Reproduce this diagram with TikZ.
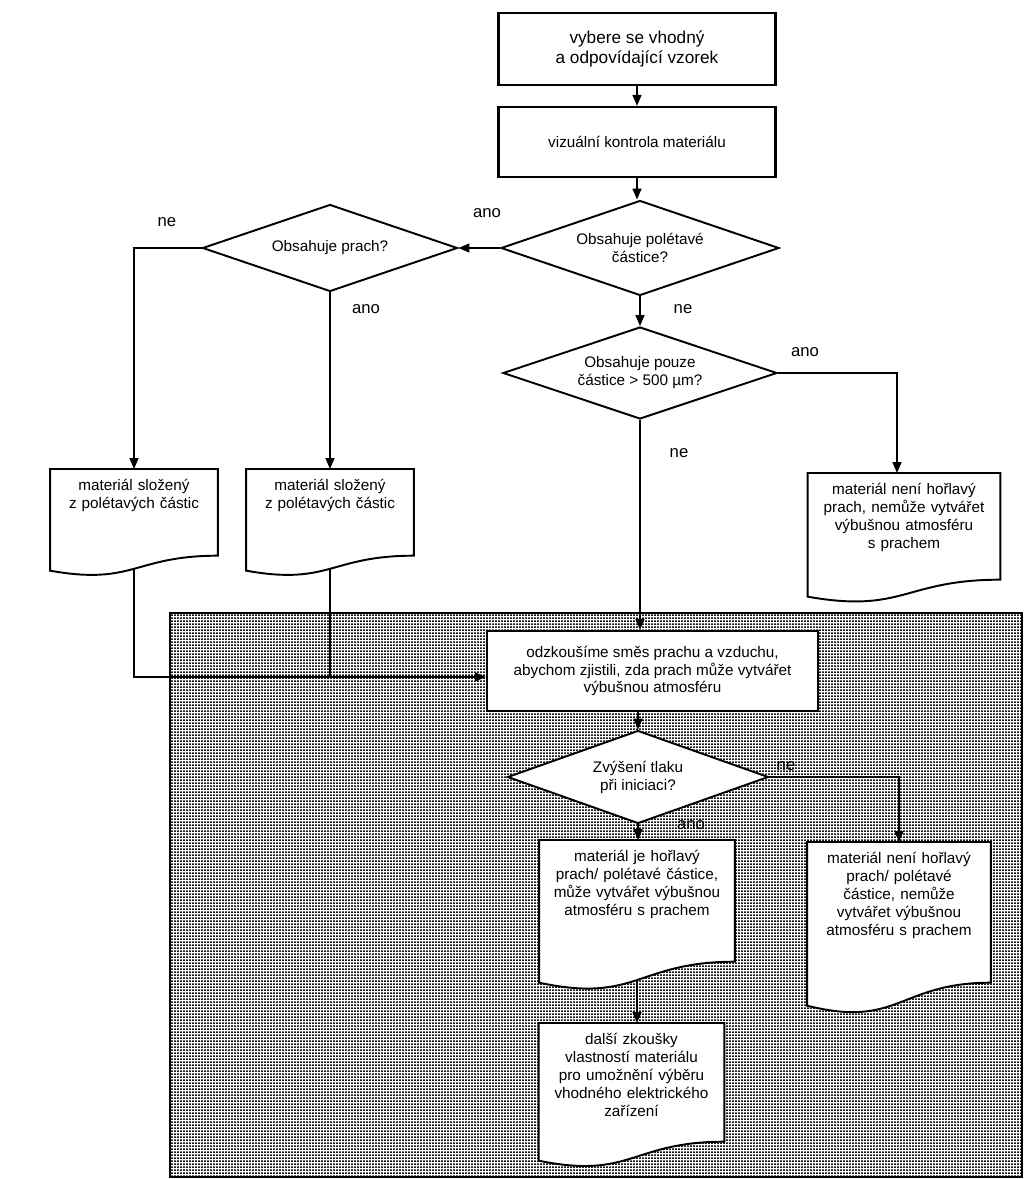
\documentclass[tikz,border=0pt]{standalone}
\usepackage{fontspec}
\setmainfont{Liberation Sans}
\usetikzlibrary{shapes.geometric,arrows.meta,calc,backgrounds,patterns.meta}

\tikzdeclarepattern{
    name=dust,
    type=uncolored,
    bounding box={(0pt,0pt) and (1.6pt,1.6pt)},
    tile size={(1.6pt,1.6pt)},
    code={\fill (0pt,0pt) rectangle (1.15pt,1.05pt);}
}

\begin{document}
\begin{tikzpicture}[
        x=0.02cm, y=0.02cm,
        font=\fontsize{8.7pt}{10.2pt}\selectfont,
        proc/.style={rectangle, draw, line width=1.3pt, fill=white, minimum width=5.54cm, align=center},
        dec/.style={diamond, draw, line width=1.1pt, fill=white, aspect=2.8, inner sep=0pt, align=center},
        doc/.style 2 args={rectangle, inner sep=0pt, anchor=north, align=center, text width=#1, text height=0.42cm, text depth=#2},
        docline/.style={draw, line width=1.1pt, fill=white},
        conn/.style={line width=0.9pt},
        arr/.style={conn, -{Triangle[length=2.2mm, width=1.8mm]}},
        tag/.style={font=\fontsize{9.5pt}{11pt}\selectfont, inner sep=1pt}
    ]
        \useasboundingbox (0,0) rectangle (1024,-1179);

        % upper part
        \node[proc, font=\fontsize{9.8pt}{11.4pt}\selectfont, minimum height=1.44cm] (box1) at (637,-49) {vybere se vhodný\\a odpovídající vzorek};
        \node[proc, minimum height=1.40cm] (box2) at (637,-142) {vizuální kontrola materiálu};
        \node[dec, minimum width=5.56cm, minimum height=1.90cm] (dec1) at (640,-248) {Obsahuje polétavé\\částice?};
        \node[dec, minimum width=5.10cm, minimum height=1.74cm] (dec2) at (330,-248) {Obsahuje prach?};
        \node[dec, minimum width=5.48cm, minimum height=1.84cm] (dec3) at (640,-373) {Obsahuje pouze\\částice > 500 µm?};

        \node[doc={3.34cm}{1.30cm}] (doc1) at (134,-469) {materiál složený\\z polétavých částic};
        \node[doc={3.34cm}{1.30cm}] (doc2) at (330,-469) {materiál složený\\z polétavých částic};
        \node[doc={3.84cm}{1.70cm}] (doc3) at (904,-473) {materiál není hořlavý\\prach, nemůže vytvářet\\výbušnou atmosféru\\s prachem};

        % test part
        \node[proc, minimum width=6.62cm, minimum height=1.60cm] (test) at (652.5,-671) {odzkoušíme směs prachu a vzduchu,\\abychom zjistili, zda prach může vytvářet\\výbušnou atmosféru};
        \node[dec, minimum width=5.22cm, minimum height=1.86cm] (dec4) at (638,-777) {Zvýšení tlaku\\při iniciaci?};
        \node[doc={3.90cm}{2.00cm}] (doc4) at (637,-840) {materiál je hořlavý\\prach/ polétavé částice,\\může vytvářet výbušnou\\atmosféru s prachem};
        \node[doc={3.66cm}{2.38cm}] (doc5) at (899,-842) {materiál není hořlavý\\prach/ polétavé\\částice, nemůže\\vytvářet výbušnou\\atmosféru s prachem};
        \node[doc={3.70cm}{1.94cm}] (doc6) at (631.5,-1023) {další zkoušky\\vlastností materiálu\\pro umožnění výběru\\vhodného elektrického\\zařízení};

        \begin{scope}[on background layer]
            \draw[line width=0.8pt, preaction={fill=white}, pattern=dust, pattern color=black!90] (170,-613) rectangle (1022,-1177);
            \foreach \d/\a in {doc1/15, doc2/15, doc3/17, doc4/21, doc5/23, doc6/19}{
                \draw[docline] (\d.north west) -- (\d.north east) -- (\d.south east)
                    .. controls (\d.south) and ($(\d.south)+(0,-2*\a)$) .. ($(\d.south west)+(0,-\a)$) -- cycle;
                \coordinate (\d-b) at ($(\d.south)+(0,-0.875*\a)$);
            }
        \end{scope}

        % connectors
        \draw[arr] (box1.south) -- (box2.north);
        \draw[arr] (box2.south) -- (box2.south |- dec1.north);
        \draw[arr] (dec1.west) -- (dec2.east);
        \draw[arr] (dec2.west) -| (doc1.north);
        \draw[arr] (dec2.south) -- (doc2.north);
        \draw[arr] (dec1.south) -- (dec3.north);
        \draw[arr] (dec3.east) -| ($(doc3.north)+(-7,0)$);
        \draw[arr] (dec3.south) -- (dec3.south |- test.north);
        \coordinate (in) at ($(test.west)+(0,-6)$);
        \draw[arr] (doc1-b) |- (in);
        \draw[conn] (doc2-b) -- (doc2-b |- in);
        \draw[arr] (test.south -| dec4.north) -- (dec4.north);
        \draw[arr] (dec4.east) -| (doc5.north);
        \draw[arr] (dec4.south) -- (dec4.south |- doc4.north);
        \draw[arr] (doc4-b) -- (doc4-b |- doc6.north);

        % answers
        \node[tag] (t1) at (487,-213) {ano};
        \node[tag] (t2) at (167,-222) {ne};
        \node[tag] (t3) at (366,-309) {ano};
        \node[tag] (t4) at (683,-309) {ne};
        \node[tag] (t5) at (805,-352) {ano};
        \node[tag] (t6) at (679,-453) {ne};
        \node[tag] (t7) at (786,-766) {ne};
        \node[tag] (t8) at (691,-825) {ano};
    \end{tikzpicture}
\end{document}
